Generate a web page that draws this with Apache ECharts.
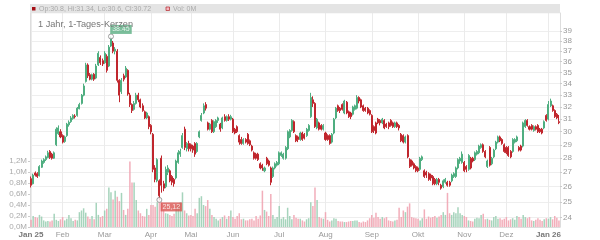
<!DOCTYPE html>
<html><head><meta charset="utf-8">
<script src="https://cdn.jsdelivr.net/npm/echarts@6/dist/echarts.min.js"></script>
<style>html,body{margin:0;padding:0;background:#fff}#c{width:600px;height:240px}</style>
</head><body><div id="c"></div>
<script>
// ---- data ----
const monthLabels = ['Jan 25','Feb','Mar','Apr','Mai','Jun','Jul','Aug','Sep','Okt','Nov','Dez','Jan 26'];
const monthCounts = [15,20,22,19,20,22,22,22,22,22,20,20,6];
const priceTicks = [24,25,26,27,28,29,30,31,32,33,34,35,36,37,38,39];
const volumeTicks = [0,0.2,0.4,0.6,0.8,1.0,1.2]; // in M
const priceRange = [23.41, 40.87];
const volumeMax = 3.89; // M
const lastCandle = {op:'30.8', hi:'31.34', lo:'30.6', cl:'30.72', vol:'0M'};
const extremes = [[38, 38.45, '38.45'], [61, 25.12, '25,12']];
// [open, close, low, high]
const ohlc = [
[26.55,26.10,25.95,26.70],[26.20,26.80,26.15,26.90],[26.95,26.80,26.70,27.05],[26.90,26.70,26.60,27.00],[26.75,27.40,26.70,27.50],
[27.35,27.80,27.30,27.90],[27.70,27.90,27.60,28.00],[27.90,28.10,27.80,28.20],[28.05,28.40,28.00,28.55],[28.50,28.05,27.95,28.60],
[28.30,28.00,27.90,28.40],[28.00,28.40,27.95,28.50],[29.00,30.20,28.90,30.35],[29.85,30.30,29.75,30.50],[30.00,29.60,29.50,30.20],
// Feb
[29.70,29.20,29.10,29.80],[29.25,29.60,29.15,29.70],[29.70,30.60,29.60,30.70],[30.55,30.75,30.40,30.90],[30.80,31.10,30.70,31.25],
[31.05,31.30,30.95,31.40],[31.25,31.20,31.05,31.40],[31.30,31.90,31.20,32.00],[31.85,32.20,31.80,32.35],[32.30,33.00,32.20,33.10],
[33.00,33.80,32.90,34.00],[34.20,35.70,34.10,35.90],[35.70,34.70,34.50,35.85],[34.80,34.40,34.30,34.95],[34.40,34.80,34.30,34.90],
[34.85,34.40,34.25,34.95],[34.50,35.60,34.40,35.80],[35.70,36.80,35.60,37.00],[36.40,35.90,35.70,36.60],[36.10,35.80,35.60,36.30],
// Mar
[35.90,36.80,35.80,37.00],[36.50,35.20,35.00,36.70],[35.60,37.40,35.50,37.60],[37.50,38.30,37.40,38.45],[37.80,37.00,36.80,38.00],
[37.00,37.20,36.70,37.40],[37.00,34.30,34.10,37.20],[34.30,33.00,32.40,34.40],[33.30,34.30,33.10,34.50],[34.70,34.40,34.20,34.90],
[34.60,35.40,34.50,35.60],[35.20,33.10,32.95,35.30],[33.00,32.20,32.00,33.20],[32.20,31.70,31.50,32.30],[31.80,32.30,31.70,32.50],
[32.30,33.00,32.20,33.20],[33.00,32.60,32.40,33.20],[32.60,32.00,31.90,32.70],[32.10,31.70,31.60,32.30],[31.60,31.10,31.00,31.70],
[31.10,31.50,31.00,31.60],[31.20,30.40,30.20,31.30],
// Apr
[30.50,30.00,29.80,30.60],[29.80,27.20,27.00,29.90],[27.30,26.50,26.30,27.50],[26.40,27.90,26.30,28.00],[26.40,25.40,25.12,26.50],
[28.00,26.10,25.60,28.20],[26.20,25.90,25.70,26.40],[26.00,27.20,25.90,27.40],[27.00,27.30,26.80,27.50],[27.10,26.40,26.30,27.20],
[26.70,26.30,26.10,26.80],[26.50,26.20,26.00,26.60],[26.60,27.80,26.50,27.90],[27.70,28.40,27.60,28.60],[28.30,28.50,28.10,28.70],
[28.80,29.70,28.70,29.90],[30.20,28.80,28.60,30.40],[28.70,29.10,28.50,29.20],[29.10,28.70,28.50,29.30],
// Mai
[29.00,28.70,28.50,29.10],[28.90,28.60,28.40,29.00],[29.10,28.30,28.10,29.20],[28.50,29.10,28.40,29.20],[29.60,30.00,29.50,30.10],
[30.90,31.30,30.80,31.50],[31.50,32.10,31.40,32.30],[32.20,31.90,31.70,32.40],[30.70,30.20,30.10,30.80],[30.20,30.60,30.10,30.70],
[30.90,30.00,29.90,31.00],[30.00,30.80,29.90,30.90],[30.40,30.90,30.30,31.00],[30.90,31.10,30.70,31.20],[30.60,30.20,30.00,30.70],
[30.30,31.10,30.20,31.20],[31.20,30.90,30.80,31.40],[30.90,31.20,30.80,31.30],[31.20,31.00,30.85,31.40],[31.00,31.20,30.90,31.35],
// Jun
[31.00,30.00,29.90,31.10],[30.20,29.90,29.80,30.30],[30.40,30.00,29.90,30.50],[29.70,29.20,29.00,29.80],[29.40,29.10,29.00,29.60],
[29.10,29.40,29.00,29.50],[29.40,29.20,29.10,29.50],[29.80,29.10,29.00,29.90],[29.30,29.00,28.90,29.40],[28.90,28.60,28.50,29.00],
[28.40,28.00,27.90,28.50],[28.30,28.00,27.90,28.40],[28.30,27.90,27.80,28.40],[27.60,27.30,27.20,27.70],[27.50,27.30,27.10,27.60],
[27.10,27.30,27.00,27.40],[28.00,27.60,27.50,28.10],[27.80,27.50,27.40,27.90],[27.30,26.30,26.10,27.40],[26.70,27.30,26.60,27.40],
[27.30,27.60,27.20,27.70],[27.50,27.70,27.40,27.80],
// Jul
[27.60,28.40,27.50,28.50],[28.20,28.40,28.10,28.50],[28.00,28.30,27.90,28.40],[28.00,28.80,27.90,28.90],[28.70,30.00,28.60,30.10],
[29.60,30.10,29.50,30.20],[30.10,30.90,30.00,31.00],[30.80,30.00,29.90,30.90],[29.70,29.30,29.20,29.80],[29.60,29.40,29.20,29.70],
[29.40,29.90,29.30,30.00],[29.90,29.40,29.30,30.00],[29.80,29.50,29.40,29.90],[29.70,30.20,29.60,30.30],[30.10,30.50,30.00,30.60],
[31.20,32.80,31.10,33.20],[32.60,32.30,32.00,32.90],[32.30,30.40,30.30,32.40],[30.30,31.00,30.20,31.10],[30.70,30.20,30.10,30.80],
[30.50,30.20,30.10,30.60],[30.20,30.50,30.10,30.60],
// Aug
[29.90,29.40,29.30,30.00],[29.70,29.40,29.30,29.80],[29.70,29.10,29.00,29.80],[29.20,29.80,29.10,29.90],[29.90,31.00,29.80,31.10],
[31.10,31.90,31.00,32.00],[32.10,31.70,31.60,32.20],[31.90,31.70,31.50,32.00],[32.20,31.80,31.70,32.30],[31.50,32.50,31.40,32.60],
[32.40,31.50,31.40,32.50],[31.60,31.20,31.10,31.70],[31.50,31.20,31.00,31.60],[31.40,32.00,31.30,32.10],[31.80,32.10,31.70,32.20],
[31.90,32.80,31.80,33.00],[32.80,32.50,32.30,32.90],[32.60,32.00,31.90,32.70],[32.10,31.70,31.60,32.20],[31.90,31.70,31.60,32.00],
[31.90,31.50,31.40,32.00],[31.70,31.40,31.30,31.80],
// Sep
[31.30,30.00,29.90,31.40],[30.40,30.10,29.90,30.50],[30.70,29.90,29.80,30.80],[31.00,30.70,30.60,31.10],[30.90,30.70,30.50,31.00],
[30.70,31.00,30.60,31.10],[30.90,30.30,30.20,31.00],[30.60,30.40,30.30,30.70],[30.70,30.40,30.20,30.80],[30.90,30.50,30.40,31.00],
[30.70,30.40,30.30,30.80],[30.40,30.70,30.30,30.80],[30.70,30.40,30.30,30.80],[30.50,30.30,30.10,30.60],[29.80,29.30,29.20,29.90],
[29.70,29.20,29.10,29.80],[29.20,29.60,29.10,29.70],[29.70,28.10,28.00,29.80],[27.90,27.40,27.30,28.00],[27.80,27.50,27.40,27.90],
[27.60,27.30,27.20,27.70],[27.40,27.10,27.00,27.50],
// Okt
[27.30,27.10,27.00,27.40],[27.20,28.00,27.10,28.10],[27.90,28.10,27.80,28.20],[27.10,26.70,26.60,27.20],[27.00,26.80,26.60,27.10],
[26.90,26.50,26.40,27.00],[26.80,26.60,26.40,26.90],[26.70,26.20,26.10,26.80],[26.50,26.20,26.10,26.60],[26.20,26.50,26.10,26.60],
[26.50,26.30,26.10,26.60],[26.10,25.90,25.80,26.20],[26.00,26.40,25.90,26.50],[26.30,26.50,26.20,26.60],[26.30,26.10,26.00,26.40],
[26.30,26.10,26.00,26.40],[26.40,26.80,26.30,26.90],[26.70,26.90,26.60,27.00],[26.70,27.30,26.60,27.40],[27.30,27.90,27.20,28.00],
[27.80,28.00,27.60,28.10],[27.70,28.30,27.60,28.50],
// Nov
[27.70,27.10,27.00,27.80],[27.40,27.20,27.00,27.50],[27.20,28.20,27.10,28.30],[28.00,27.30,27.20,28.10],[28.00,27.80,27.70,28.10],
[27.90,28.40,27.80,28.50],[28.30,28.50,28.20,28.60],[28.40,28.90,28.30,29.00],[28.80,29.00,28.70,29.10],[29.00,28.50,28.40,29.10],
[28.50,28.10,28.00,28.60],[27.40,27.80,27.30,27.90],[28.80,27.50,27.40,28.90],[27.60,28.00,27.50,28.10],[28.10,28.60,28.00,28.70],
[28.70,29.20,28.60,29.30],[29.20,29.60,29.10,29.70],[29.60,29.30,29.20,29.70],[29.40,29.10,29.00,29.50],[29.00,28.50,28.40,29.10],
// Dez
[28.80,28.40,28.30,28.90],[28.80,28.20,28.10,28.90],[28.50,28.10,28.00,28.60],[28.50,29.40,28.40,29.50],[29.20,29.40,29.10,29.50],
[29.30,29.60,29.20,29.70],[28.80,28.60,28.50,28.90],[28.90,28.60,28.50,29.00],[28.90,30.70,28.80,30.80],[30.40,30.90,30.30,31.00],
[30.90,30.50,30.40,31.00],[30.40,30.20,30.10,30.50],[30.50,30.20,30.10,30.60],[30.10,30.40,30.00,30.50],[30.40,30.20,30.10,30.50],
[30.50,30.00,29.90,30.60],[30.20,30.00,29.90,30.30],[30.20,29.90,29.80,30.30],[30.30,30.80,30.20,30.90],[31.30,30.90,30.80,31.40],
// Jan 26
[31.00,32.20,30.90,32.50],[32.10,32.50,32.00,32.70],[32.10,31.70,31.60,32.20],[31.70,31.20,31.10,31.80],[31.40,31.10,31.00,31.50],
[30.80,30.72,30.60,31.34]
];
// volume in millions
const volumes = [
0.13,0.20,0.18,0.17,0.22,0.19,0.12,0.10,0.11,0.10,0.12,0.24,0.13,0.11,0.14,
0.18,0.12,0.15,0.22,0.16,0.11,0.13,0.12,0.27,0.30,0.34,0.26,0.19,0.15,0.20,0.14,0.44,0.22,0.18,0.20,
0.30,0.33,0.72,0.63,0.50,0.66,0.55,0.47,0.62,0.31,0.22,0.33,1.19,0.81,0.81,0.49,0.30,0.25,0.20,0.19,0.33,0.22,
0.40,0.40,0.37,0.45,0.58,0.45,0.30,0.25,0.24,0.22,0.20,0.24,0.33,0.42,0.45,0.63,0.30,0.25,0.21,
0.22,0.20,0.33,0.25,0.53,0.56,0.40,0.38,0.49,0.33,0.22,0.18,0.15,0.12,0.15,0.18,0.21,0.15,0.20,0.30,
0.18,0.15,0.20,0.25,0.14,0.15,0.12,0.12,0.14,0.15,0.12,0.20,0.15,0.21,0.66,0.31,0.28,0.20,0.60,0.22,0.15,0.18,
0.38,0.15,0.18,0.14,0.35,0.20,0.14,0.22,0.17,0.15,0.15,0.12,0.10,0.14,0.16,0.45,0.38,0.72,0.49,0.18,0.16,0.15,
0.27,0.13,0.10,0.12,0.16,0.15,0.11,0.10,0.10,0.09,0.09,0.10,0.11,0.11,0.12,0.12,0.09,0.08,0.10,0.09,0.12,0.16,
0.22,0.17,0.26,0.18,0.15,0.18,0.16,0.18,0.12,0.11,0.10,0.12,0.13,0.35,0.18,0.30,0.27,0.37,0.43,0.18,0.17,0.16,
0.15,0.12,0.16,0.32,0.15,0.19,0.17,0.18,0.20,0.17,0.19,0.22,0.27,0.22,0.62,0.25,0.22,0.27,0.25,0.36,0.25,0.22,
0.20,0.18,0.12,0.11,0.10,0.15,0.17,0.16,0.22,0.24,0.14,0.15,0.13,0.12,0.18,0.20,0.15,0.16,0.13,0.15,
0.18,0.12,0.14,0.16,0.13,0.20,0.18,0.15,0.22,0.18,0.16,0.18,0.12,0.11,0.13,0.16,0.13,0.11,0.14,0.16,
0.15,0.18,0.14,0.20,0.17,0.12
];

// ---- chart ----
const upColor = '#4fae80', downColor = '#c0262d';
const volUp = 'rgba(150,205,176,0.85)', volDown = 'rgba(240,160,174,0.85)';
const L = v => Math.log(v);

const categories = [];
const monthStart = {};
monthLabels.forEach((m, k) => {
  monthStart[categories.length] = m;
  for (let j = 0; j < monthCounts[k]; j++) categories.push(m + ' #' + (j + 1));
});
const isMonthStart = i => Object.prototype.hasOwnProperty.call(monthStart, i);

const chart = echarts.init(document.getElementById('c'), null, {renderer: 'canvas'});
const FONT = '"Liberation Sans", Arial, sans-serif';
chart.setOption({
  animation: false,
  textStyle: {fontFamily: FONT},
  title: {
    text: '1 Jahr, 1-Tages-Kerzen', left: 33, top: 15,
    textStyle: {fontSize: 9.2, color: '#777', fontWeight: 'normal', fontFamily: FONT}
  },
  grid: {left: 30, right: 40, top: 13, bottom: 13, containLabel: false},
  graphic: [
    {type: 'rect', shape: {x: 30, y: 4, width: 530, height: 9.3}, style: {fill: '#e4e4e4'}, z: 10},
    {type: 'rect', shape: {x: 32, y: 7, width: 3.5, height: 3.5}, style: {fill: '#a50f15'}, z: 11},
    {type: 'text', x: 39, y: 8.8, z: 11, style: {
      text: 'Op:' + lastCandle.op + ', Hi:' + lastCandle.hi + ', Lo:' + lastCandle.lo + ', Cl:' + lastCandle.cl,
      fontSize: 7, fontFamily: FONT, fill: '#aaa', textVerticalAlign: 'middle', verticalAlign: 'middle'}},
    {type: 'rect', shape: {x: 166, y: 7, width: 3.5, height: 3.5}, style: {fill: '#f4b8c0', stroke: '#b5272d', lineWidth: 0.7}, z: 11},
    {type: 'text', x: 173, y: 8.8, z: 11, style: {
      text: 'Vol: ' + lastCandle.vol, fontSize: 7, fontFamily: FONT, fill: '#aaa', textVerticalAlign: 'middle', verticalAlign: 'middle'}}
  ],
  xAxis: {
    type: 'category', data: categories, boundaryGap: true,
    axisLine: {show: true, lineStyle: {color: '#ddd'}},
    axisTick: {show: false},
    axisLabel: {
      interval: (i) => isMonthStart(i),
      formatter: (v, i) => { const m = monthStart[i]; return /\d/.test(m) ? '{y|' + m + '}' : m; },
      color: '#999', fontSize: 8, margin: 4, fontFamily: FONT,
      rich: {y: {fontWeight: 'bold', color: '#777', fontSize: 8, fontFamily: FONT}}
    },
    splitLine: {show: true, interval: (i) => isMonthStart(i), alignWithLabel: true, lineStyle: {color: '#ebebeb', width: 1}}
  },
  yAxis: [
    {
      type: 'value', position: 'right', min: L(priceRange[0]), max: L(priceRange[1]), scale: true,
      axisLine: {show: true, lineStyle: {color: '#ddd'}},
      axisTick: {show: true, length: 2, customValues: priceTicks.map(L), lineStyle: {color: '#ccc'}},
      axisLabel: {customValues: priceTicks.map(L), formatter: v => String(Math.round(Math.exp(v))), color: '#999', fontSize: 8, margin: 3, fontFamily: FONT},
      splitLine: {show: true, lineStyle: {color: '#eee'}}
    },
    {
      type: 'value', position: 'left', min: 0, max: volumeMax,
      axisLine: {show: true, lineStyle: {color: '#ddd'}},
      axisTick: {show: true, length: 2, customValues: volumeTicks, lineStyle: {color: '#ccc'}},
      axisLabel: {customValues: volumeTicks, formatter: v => v.toFixed(1).replace('.', ',') + 'M', color: '#aaa', fontSize: 8, margin: 3, fontFamily: FONT},
      splitLine: {show: false}
    }
  ],
  series: [
    {
      type: 'bar', yAxisIndex: 1, barWidth: '72%', silent: true,
      data: volumes.map((v, i) => ({value: v, itemStyle: {color: ohlc[i][1] >= ohlc[i][0] ? volUp : volDown}}))
    },
    {
      type: 'candlestick', yAxisIndex: 0, barWidth: '72%', silent: true,
      data: ohlc.map(r => r.map(L)),
      itemStyle: {color: upColor, color0: downColor, borderColor: upColor, borderColor0: downColor, borderWidth: 1}
    },
    {
      type: 'scatter', yAxisIndex: 0, symbol: 'circle', symbolSize: 5, silent: true, z: 5,
      itemStyle: {color: '#fff', borderColor: '#888', borderWidth: 1},
      data: extremes.map((e, k) => ({
        value: [e[0], L(e[1])],
        label: {
          show: true, position: 'inside', formatter: e[2],
          offset: k === 0 ? [10, -7] : [12, 7],
          color: '#fff', fontSize: 7, fontFamily: FONT,
          backgroundColor: k === 0 ? '#5aae82' : '#d9534f', padding: [1, 2, 1, 2]
        }
      }))
    }
  ]
});
</script>
</body></html>
